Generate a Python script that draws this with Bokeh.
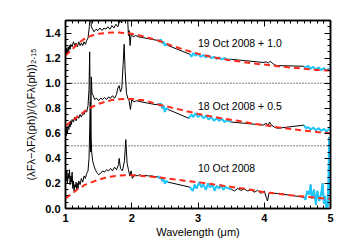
from bokeh.plotting import figure
from bokeh.models import LinearAxis, Span, Label, Range1d, FixedTicker, PrintfTickFormatter
from bokeh.embed import file_html
from bokeh.resources import INLINE

# ---------------- data ----------------
MODEL_X = [1.0, 1.1, 1.2, 1.3, 1.4, 1.5, 1.6, 1.7, 1.8, 1.9, 2.0, 2.2, 2.4, 2.6, 2.8,
           3.0, 3.2, 3.4, 3.6, 3.8, 4.0, 4.2, 4.4, 4.6, 4.8, 5.0]
MODEL_10 = [0.08, 0.12, 0.16, 0.19, 0.21, 0.23, 0.245, 0.255, 0.262, 0.265, 0.265, 0.258, 0.248,
            0.235, 0.222, 0.21, 0.195, 0.18, 0.165, 0.15, 0.13, 0.118, 0.106, 0.095, 0.085, 0.077]
MODEL_18 = [0.66, 0.70, 0.74, 0.78, 0.81, 0.835, 0.852, 0.865, 0.872, 0.875, 0.874, 0.862, 0.83,
            0.805, 0.78, 0.755, 0.735, 0.715, 0.70, 0.68, 0.665, 0.648, 0.635, 0.622, 0.61, 0.60]
MODEL_19 = [1.22, 1.27, 1.32, 1.36, 1.38, 1.395, 1.40, 1.405, 1.405, 1.40, 1.395, 1.37, 1.34,
            1.30, 1.265, 1.235, 1.21, 1.19, 1.175, 1.16, 1.148, 1.135, 1.125, 1.115, 1.105, 1.10]

# 10 Oct 2008
NIR10_X = [1.00, 1.01, 1.02, 1.03, 1.04, 1.05, 1.06, 1.07, 1.08, 1.09, 1.10, 1.11, 1.12, 1.13, 1.14,
           1.15, 1.16, 1.17, 1.18, 1.19, 1.20, 1.22, 1.24, 1.26, 1.28, 1.30, 1.32, 1.34, 1.355,
           1.365, 1.375, 1.385, 1.395, 1.41, 1.43, 1.45, 1.47, 1.50, 1.53, 1.56, 1.59, 1.62, 1.65,
           1.68, 1.71, 1.74, 1.77, 1.80, 1.81, 1.83, 1.86, 1.89, 1.91, 1.93, 1.95, 1.97, 1.99, 2.01,
           2.04, 2.08, 2.12, 2.16, 2.20, 2.25, 2.30, 2.35, 2.40]
NIR10_Y = [0.27, 0.22, 0.30, 0.20, 0.28, 0.24, 0.31, 0.19, 0.26, 0.21, 0.29, 0.16, 0.22, 0.14, 0.19,
           0.17, 0.21, 0.15, 0.20, 0.16, 0.22, 0.19, 0.24, 0.21, 0.26, 0.24, 0.28, 0.30, 0.40,
           0.62, 0.85, 0.58, 0.45, 0.38, 0.34, 0.31, 0.29, 0.27, 0.28, 0.30, 0.29, 0.31, 0.30,
           0.32, 0.30, 0.33, 0.31, 0.35, 0.40, 0.32, 0.30, 0.38, 0.55, 0.36, 0.31, 0.26, 0.30, 0.24,
           0.27, 0.26, 0.27, 0.26, 0.265, 0.26, 0.26, 0.255, 0.25]
C1_10_X = [2.40, 2.42, 2.44, 2.46, 2.48, 2.50, 2.52, 2.55]
C1_10_Y = [0.26, 0.24, 0.25, 0.22, 0.23, 0.20, 0.22, 0.21]
C2_10_X = [2.88, 2.92, 2.95, 2.98, 3.02, 3.05, 3.08, 3.12, 3.15, 3.18, 3.22, 3.25, 3.28, 3.32,
           3.35, 3.38, 3.42, 3.46, 3.50]
C2_10_Y = [0.17, 0.14, 0.19, 0.16, 0.21, 0.17, 0.19, 0.15, 0.20, 0.17, 0.19, 0.14, 0.18, 0.16,
           0.19, 0.15, 0.17, 0.16, 0.155]
MID10_X = [3.50, 3.55, 3.60, 3.65, 3.70, 3.75, 3.80, 3.85, 3.90, 3.95, 4.00, 4.03, 4.05, 4.07,
           4.10, 4.15, 4.20]
MID10_Y = [0.155, 0.14, 0.16, 0.145, 0.155, 0.14, 0.15, 0.13, 0.145, 0.12, 0.14, 0.09, 0.06, 0.12,
           0.13, 0.12, 0.12]
C3_10_X = [4.60, 4.62, 4.65, 4.68, 4.70, 4.72, 4.75, 4.78, 4.80, 4.83, 4.86, 4.88, 4.90, 4.92,
           4.94, 4.96, 4.97, 4.98, 4.99, 5.00]
C3_10_Y = [0.09, 0.07, 0.14, 0.11, 0.19, 0.08, 0.15, 0.03, 0.14, 0.06, 0.12, 0.20, 0.04, 0.10,
           0.0, 0.02, 0.25, 0.57, 0.12, 0.28]

# 18 Oct 2008 (+0.5)
NIR18_X = [1.00, 1.01, 1.02, 1.03, 1.04, 1.05, 1.06, 1.07, 1.08, 1.09, 1.10, 1.12, 1.14, 1.16,
           1.18, 1.20, 1.22, 1.24, 1.26, 1.28, 1.30, 1.32, 1.34, 1.355, 1.365, 1.372, 1.38, 1.39,
           1.40, 1.42, 1.44, 1.47, 1.50, 1.53, 1.56, 1.59, 1.62, 1.65, 1.68, 1.71, 1.74, 1.77,
           1.79, 1.81, 1.83, 1.85, 1.87, 1.885, 1.90, 1.92, 1.94, 1.96, 1.98, 2.00, 2.03, 2.07,
           2.11, 2.15, 2.20, 2.25, 2.30, 2.35, 2.40]
NIR18_Y = [0.62, 0.58, 0.64, 0.60, 0.66, 0.63, 0.68, 0.65, 0.70, 0.67, 0.71, 0.69, 0.73, 0.70,
           0.74, 0.72, 0.75, 0.73, 0.76, 0.75, 0.78, 0.77, 0.82, 0.95, 1.25, 0.90, 0.45, 1.05,
           0.92, 0.90, 0.87, 0.88, 0.86, 0.88, 0.87, 0.885, 0.87, 0.89, 0.88, 0.90, 0.88, 0.91,
           0.96, 0.98, 0.93, 0.96, 1.15, 1.31, 1.10, 0.92, 0.88, 0.86, 0.79, 0.87, 0.85, 0.86,
           0.855, 0.85, 0.845, 0.84, 0.835, 0.83, 0.83]
C1_18_X = [2.40, 2.42, 2.44, 2.46, 2.48, 2.50, 2.52, 2.55]
C1_18_Y = [0.84, 0.82, 0.84, 0.80, 0.82, 0.77, 0.80, 0.79]
C2_18_X = [2.86, 2.90, 2.93, 2.96, 3.00, 3.04, 3.08, 3.12, 3.16, 3.20, 3.24, 3.28, 3.32, 3.36,
           3.40, 3.44, 3.50]
C2_18_Y = [0.72, 0.75, 0.73, 0.76, 0.73, 0.75, 0.72, 0.74, 0.71, 0.73, 0.70, 0.72, 0.70, 0.715,
           0.69, 0.705, 0.69]
MID18_X = [3.50, 3.60, 3.70, 3.80, 3.90, 3.98, 4.03, 4.06, 4.08, 4.10, 4.15, 4.20]
MID18_Y = [0.69, 0.685, 0.68, 0.675, 0.67, 0.665, 0.68, 0.66, 0.69, 0.67, 0.65, 0.64]
C3_18_X = [4.60, 4.63, 4.66, 4.70, 4.74, 4.78, 4.82, 4.86, 4.90, 4.94, 4.97, 5.00]
C3_18_Y = [0.665, 0.64, 0.65, 0.63, 0.645, 0.625, 0.64, 0.62, 0.635, 0.615, 0.63, 0.64]

# 19 Oct 2008 (+1.0)
NIR19_X = [1.00, 1.01, 1.02, 1.03, 1.04, 1.05, 1.06, 1.07, 1.08, 1.10, 1.12, 1.14, 1.16, 1.18,
           1.20, 1.22, 1.24, 1.26, 1.28, 1.30, 1.32, 1.34, 1.36, 1.375, 1.39, 1.41, 1.43, 1.46,
           1.49, 1.52, 1.55, 1.58, 1.61, 1.64, 1.67, 1.70, 1.73, 1.76, 1.79, 1.82, 1.85, 1.87,
           1.90, 1.93, 1.95, 1.96, 1.975, 1.99, 2.02, 2.06, 2.10, 2.15, 2.20, 2.25, 2.30, 2.35,
           2.40]
NIR19_Y = [1.26, 1.22, 1.28, 1.24, 1.29, 1.26, 1.30, 1.27, 1.31, 1.29, 1.33, 1.30, 1.32, 1.29,
           1.33, 1.30, 1.32, 1.30, 1.33, 1.31, 1.34, 1.36, 1.45, 1.60, 1.45, 1.43, 1.41, 1.43,
           1.42, 1.44, 1.42, 1.44, 1.43, 1.45, 1.43, 1.46, 1.44, 1.47, 1.45, 1.50, 1.48, 1.60,
           1.55, 1.60, 1.38, 1.42, 1.30, 1.39, 1.37, 1.38, 1.37, 1.365, 1.36, 1.355, 1.35, 1.345,
           1.34]
C1_19_X = [2.40, 2.42, 2.44, 2.46, 2.48, 2.50, 2.52, 2.55]
C1_19_Y = [1.345, 1.33, 1.35, 1.32, 1.33, 1.30, 1.31, 1.30]
C2_19_X = [2.88, 2.90, 2.93, 2.96, 3.00, 3.04, 3.08, 3.12, 3.16, 3.20, 3.24, 3.28, 3.32, 3.36,
           3.40, 3.45, 3.50]
C2_19_Y = [1.23, 1.21, 1.24, 1.22, 1.235, 1.21, 1.225, 1.205, 1.22, 1.20, 1.21, 1.195, 1.205,
           1.19, 1.20, 1.185, 1.19]
MID19_X = [3.50, 3.60, 3.70, 3.80, 3.90, 3.98, 4.03, 4.06, 4.09, 4.12, 4.16, 4.20]
MID19_Y = [1.19, 1.185, 1.18, 1.175, 1.17, 1.165, 1.17, 1.16, 1.175, 1.16, 1.145, 1.14]
C3_19_X = [4.60, 4.63, 4.66, 4.70, 4.74, 4.78, 4.82, 4.86, 4.90, 4.94, 4.97, 5.00]
C3_19_Y = [1.135, 1.12, 1.14, 1.115, 1.13, 1.11, 1.125, 1.105, 1.12, 1.10, 1.115, 1.10]

X_TICKS = [1, 2, 3, 4, 5]
Y_TICKS = [0.0, 0.2, 0.4, 0.6, 0.8, 1.0, 1.2, 1.4]
OFFSET_LINES = [1.0, 0.5]
LABELS = ["19 Oct 2008 + 1.0", "18 Oct 2008 + 0.5", "10 Oct 2008"]
LABEL_X = [3.0, 3.0, 3.0]
LABEL_Y = [1.32, 0.815, 0.32]

FONT = "Liberation Sans"

p = figure(width=342, height=242, output_backend="svg", toolbar_location=None,
           x_range=Range1d(1, 5), y_range=Range1d(0, 1.5),
           min_border_left=65, min_border_right=12, min_border_top=20, min_border_bottom=34,
           x_axis_label="Wavelength (\u03bcm)",
           y_axis_label="(\u03bbF\u03bb\u2212\u03bbF\u03bb(ph))/(\u03bbF\u03bb(ph))\u2082.\u2081\u2085")
p.grid.visible = False
p.outline_line_color = "black"
p.outline_line_width = 1.5
p.background_fill_color = "white"
p.border_fill_color = "white"

xminor = [1 + 0.1 * i for i in range(41)]
yminor = [0.05 * i for i in range(31)]


def style_axis(ax, ticks, minor, labels=True):
    ax.ticker = FixedTicker(ticks=ticks, minor_ticks=minor)
    ax.axis_line_color = "black"
    ax.axis_line_width = 1.5
    ax.major_tick_in = 6
    ax.major_tick_out = 0
    ax.minor_tick_in = 3
    ax.minor_tick_out = 0
    ax.major_tick_line_width = 1
    ax.minor_tick_line_width = 1
    ax.major_label_text_font = FONT
    ax.major_label_text_font_size = "11px"
    ax.major_label_text_font_style = "bold"
    ax.major_label_text_color = "black"
    ax.axis_label_text_font = FONT
    ax.axis_label_text_font_size = "11px"
    ax.axis_label_text_font_style = "normal"
    ax.axis_label_text_color = "black"
    if not labels:
        ax.major_label_text_color = None
        ax.major_label_text_font_size = "1px"
        ax.major_label_standoff = 0


for ax in p.xaxis:
    style_axis(ax, X_TICKS, xminor)
    ax.major_label_standoff = 5
    ax.axis_label_standoff = 1
for ax in p.yaxis:
    style_axis(ax, Y_TICKS, yminor)
    ax.formatter = PrintfTickFormatter(format="%.1f")
    ax.major_label_standoff = 5
    ax.axis_label_standoff = 5

top = LinearAxis()
style_axis(top, X_TICKS, xminor, labels=False)
p.add_layout(top, "above")
right = LinearAxis()
style_axis(right, Y_TICKS, yminor, labels=False)
p.add_layout(right, "right")

for yv in OFFSET_LINES:
    p.add_layout(Span(location=yv, dimension="width", line_color="black",
                      line_width=1, line_dash="1 2"))

epochs = [
    (NIR10_X, NIR10_Y, C1_10_X, C1_10_Y, C2_10_X, C2_10_Y, MID10_X, MID10_Y, C3_10_X, C3_10_Y, MODEL_10),
    (NIR18_X, NIR18_Y, C1_18_X, C1_18_Y, C2_18_X, C2_18_Y, MID18_X, MID18_Y, C3_18_X, C3_18_Y, MODEL_18),
    (NIR19_X, NIR19_Y, C1_19_X, C1_19_Y, C2_19_X, C2_19_Y, MID19_X, MID19_Y, C3_19_X, C3_19_Y, MODEL_19),
]

for (nx, ny, c1x, c1y, c2x, c2y, mx, my, c3x, c3y, model) in epochs:
    bx = nx + c1x + c2x + mx + c3x
    by = ny + c1y + c2y + my + c3y
    p.line(bx, by, line_color="black", line_width=1)
    for cx, cy in ((c1x, c1y), (c2x, c2y), (c3x, c3y)):
        p.line(cx, cy, line_color="#1ec8ff", line_width=2)
    p.line(MODEL_X, model, line_color="#ff2a1a", line_width=2, line_dash="6 4")

for t, lx, ly in zip(LABELS, LABEL_X, LABEL_Y):
    p.add_layout(Label(x=lx, y=ly, text=t, text_font=FONT, text_font_size="10.5px",
                       text_color="black", text_baseline="middle", text_align="left"))

open("out.html", "w").write(file_html(p, INLINE))
